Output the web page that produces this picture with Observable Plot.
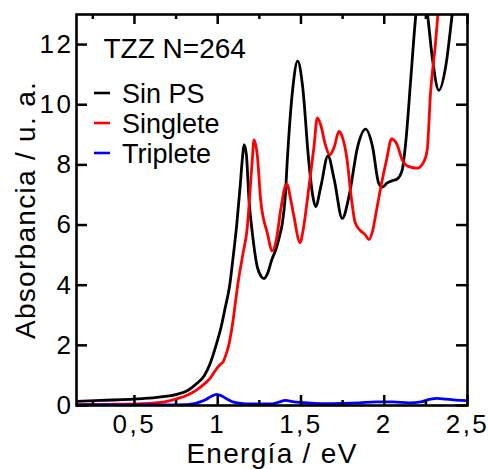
<!DOCTYPE html>
<html>
<head>
<meta charset="utf-8">
<script src="https://cdn.jsdelivr.net/npm/d3@7"></script>
<script src="https://cdn.jsdelivr.net/npm/@observablehq/plot@0.6"></script>
<style>
  html, body { margin: 0; padding: 0; background: #fff; }
  #chart svg { display: block; }
</style>
</head>
<body>
<div id="chart"></div>
<script>
// ---- data ----
const sinPSx = [0.152, 0.3, 0.55, 0.65, 0.754, 0.82, 0.874, 0.92, 0.954, 0.99, 1.02, 1.045, 1.072, 1.094, 1.114, 1.135, 1.148, 1.158, 1.172, 1.188, 1.208, 1.238, 1.26, 1.278, 1.30, 1.325, 1.348, 1.37, 1.388, 1.405, 1.418, 1.45, 1.48, 1.51, 1.546, 1.57, 1.588, 1.62, 1.662, 1.70, 1.748, 1.79, 1.84, 1.888, 1.93, 1.966, 1.988, 2.018, 2.05, 2.078, 2.108, 2.13, 2.16, 2.19, 2.225, 2.26, 2.29, 2.328, 2.37, 2.408, 2.45, 2.5];
const sinPSy = [0.14, 0.17, 0.23, 0.28, 0.37, 0.5, 0.73, 1.0, 1.39, 2.0, 2.6, 3.25, 4.0, 5.0, 6.0, 7.3, 8.2, 8.67, 8.35, 6.83, 5.73, 4.6, 4.3, 4.22, 4.4, 4.85, 5.17, 5.6, 6.06, 6.9, 8.17, 10.5, 11.45, 10.6, 8.17, 7.0, 6.61, 7.3, 8.3, 7.5, 6.22, 7.0, 8.6, 9.19, 8.6, 7.4, 7.26, 7.4, 7.48, 7.53, 7.83, 8.8, 10.9, 13.0, 14.2, 13.0, 11.5, 10.48, 11.3, 13.0, 15.0, 17.0];

const singX = [0.152, 0.35, 0.55, 0.68, 0.754, 0.82, 0.874, 0.92, 0.954, 0.994, 1.015, 1.034, 1.05, 1.066, 1.08, 1.094, 1.108, 1.12, 1.15, 1.178, 1.195, 1.208, 1.218, 1.238, 1.258, 1.298, 1.328, 1.355, 1.378, 1.414, 1.44, 1.458, 1.494, 1.515, 1.538, 1.578, 1.598, 1.62, 1.645, 1.672, 1.70, 1.728, 1.75, 1.774, 1.804, 1.824, 1.854, 1.885, 1.908, 1.93, 1.954, 1.984, 2.014, 2.044, 2.075, 2.108, 2.148, 2.198, 2.238, 2.258, 2.278, 2.308, 2.322, 2.36, 2.4];
const singY = [0.03, 0.04, 0.06, 0.12, 0.22, 0.35, 0.52, 0.72, 0.9, 1.23, 1.36, 1.47, 1.7, 2.0, 2.4, 2.9, 3.5, 4.0, 5.0, 5.94, 7.2, 8.2, 8.83, 8.3, 6.83, 5.73, 5.14, 5.6, 6.5, 7.37, 6.8, 6.28, 5.42, 5.9, 6.83, 8.6, 9.56, 9.3, 8.7, 8.33, 8.6, 9.11, 8.9, 8.28, 6.83, 6.11, 5.83, 5.68, 5.52, 5.8, 6.5, 7.39, 8.17, 8.86, 8.7, 8.17, 7.94, 7.89, 8.11, 8.5, 10.39, 12.06, 13.0, 15.5, 18.0];

const tripX = [0.152, 0.5, 0.7, 0.8, 0.83, 0.86, 0.89, 0.93, 0.96, 0.994, 1.03, 1.06, 1.094, 1.14, 1.19, 1.25, 1.318, 1.36, 1.408, 1.45, 1.5, 1.58, 1.66, 1.75, 1.85, 1.95, 2.05, 2.15, 2.22, 2.27, 2.32, 2.37, 2.43, 2.5];
const tripY = [0.02, 0.02, 0.02, 0.03, 0.04, 0.06, 0.11, 0.2, 0.3, 0.37, 0.3, 0.2, 0.11, 0.07, 0.05, 0.05, 0.05, 0.1, 0.17, 0.13, 0.1, 0.07, 0.06, 0.07, 0.09, 0.12, 0.12, 0.09, 0.12, 0.2, 0.24, 0.21, 0.18, 0.16];

const xMajor = [0.5, 1, 1.5, 2, 2.5];
const xMinor = [0.25, 0.75, 1.25, 1.75, 2.25];
const yMajor = [0, 2, 4, 6, 8, 10, 12];
const xLabels = ["0,5", "1", "1,5", "2", "2,5"];

const seriesNames = ["Sin PS", "Singlete", "Triplete"];
const seriesColors = ["#000000", "#ff0000", "#0000ff"];
const annotation = "TZZ N=264";
const xTitle = "Energía / eV";
const yTitle = "Absorbancia / u. a.";

// ---- build tables ----
const toRows = (xs, ys, s) => xs.map((x, i) => ({x, y: ys[i], s}));
const rows = [
  ...toRows(sinPSx, sinPSy, seriesNames[0]),
  ...toRows(singX, singY, seriesNames[1]),
  ...toRows(tripX, tripY, seriesNames[2])
];

const W = 488, H = 469;
const mL = 76, mR = 21, mT = 14, mB = 64;
const fw = W - mL - mR, fh = H - mT - mB;
const FONT = "'Liberation Sans', Arial, Helvetica, sans-serif";

const chart = Plot.plot({
  width: W,
  height: H,
  marginLeft: mL,
  marginRight: mR,
  marginTop: mT,
  marginBottom: mB,
  style: {fontFamily: FONT, fontSize: "26px", color: "#000", background: "#fff"},
  x: {domain: [0.152, 2.5], ticks: xMajor, tickFormat: d => xLabels[xMajor.indexOf(d)], tickSize: 0, tickPadding: 9, label: null},
  y: {domain: [0, 13], ticks: yMajor, tickSize: 0, tickPadding: 3, label: null},
  color: {domain: seriesNames, range: seriesColors},
  marks: [
    Plot.line(rows, {x: "x", y: "y", z: "s", stroke: "s", strokeWidth: 2.8, curve: "monotone-x", clip: true}),
    // inward ticks
    Plot.ruleX(xMajor, {x: d => d, insetTop: fh - 10, strokeWidth: 2.5}),
    Plot.ruleX(xMinor, {x: d => d, insetTop: fh - 5, strokeWidth: 2.5}),
    Plot.ruleX(xMajor, {x: d => d, insetBottom: fh - 10, strokeWidth: 2.5}),
    Plot.ruleX(xMinor, {x: d => d, insetBottom: fh - 5, strokeWidth: 2.5}),
    Plot.ruleY(yMajor, {y: d => d, insetRight: fw - 11, strokeWidth: 2.5}),
    Plot.ruleY(yMajor, {y: d => d, insetLeft: fw - 11, strokeWidth: 2.5}),
    Plot.frame({strokeWidth: 2.6}),
    // axis titles
    Plot.text([xTitle], {text: d => d, frameAnchor: "bottom", lineAnchor: "middle", textAnchor: "middle", dy: 49, fontSize: 28}),
    Plot.text([yTitle], {text: d => d, frameAnchor: "left", lineAnchor: "middle", textAnchor: "middle", dx: -50, rotate: -90, fontSize: 28}),
    // annotation
    Plot.text([annotation], {text: d => d, frameAnchor: "top-left", lineAnchor: "middle", textAnchor: "start", dx: 27, dy: 35, fontSize: 28})
  ]
});

// letter spacing to match the wider lettering of the reference
const tickTexts = new Set([...xLabels, ...yMajor.map(String)]);
d3.select(chart).selectAll("text").each(function() {
  const t = this.textContent;
  if (tickTexts.has(t)) this.setAttribute("letter-spacing", "2.5px");
  else if (t === xTitle || t === yTitle) this.setAttribute("letter-spacing", "1.3px");
});

// legend inside the frame
const svg = d3.select(chart);
const leg = svg.append("g").attr("font-family", FONT).attr("font-size", 27).attr("text-anchor", "start");
seriesNames.forEach((name, i) => {
  const yLine = 93 + i * 30;
  leg.append("line").attr("x1", 94).attr("x2", 110).attr("y1", yLine).attr("y2", yLine)
    .attr("stroke", seriesColors[i]).attr("stroke-width", 2.6);
  leg.append("text").attr("x", 122).attr("y", yLine + 9.5).attr("fill", "#000").attr("text-anchor", "start").text(name);
});

document.getElementById("chart").appendChild(chart);
</script>
</body>
</html>
